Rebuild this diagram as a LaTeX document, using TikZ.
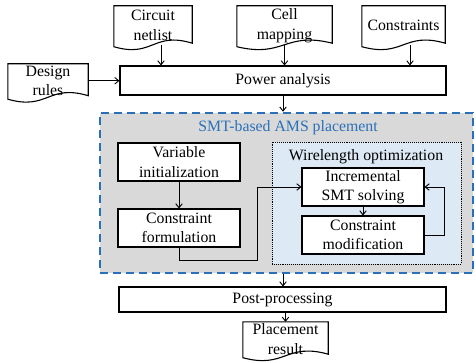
\documentclass[tikz,border=0pt]{standalone}
\usepackage{fontspec}
\setmainfont{Liberation Serif}
\usetikzlibrary{arrows.meta,calc}
\definecolor{grayfill}{HTML}{D9D9D9}
\definecolor{lightblue}{HTML}{DDEAF6}
\definecolor{dashblue}{HTML}{2A70B8}
\tikzset{
  txt/.style={align=center, inner sep=0pt, font=\fontsize{15.8}{19.5}\selectfont},
  box/.style={txt, draw, line width=1.1pt, fill=white},
  docnode/.style={txt},
  docline/.style={line width=1.1pt},
  arr/.style={-{Straight Barb[length=4pt,width=6.5pt]}, line width=0.9pt},
}
\newcommand\docoutline[1]{%
  \draw[docline] (#1.north west) -- (#1.north east) -- ($(#1.south east)+(0,-2)$)
    .. controls ($(#1.south)+(0,-14)$) and ($(#1.south)+(0,13)$) .. ($(#1.south west)+(0,1.5)$) -- cycle;}
\begin{document}
\begin{tikzpicture}[x=1pt,y=-1pt]
\useasboundingbox (0,0) rectangle (476,363);
\fill[white] (0,0) rectangle (476,363);

% SMT outer box
\node[draw=dashblue, fill=grayfill, line width=2.6pt, dash pattern=on 8pt off 5pt,
      minimum width=373pt, minimum height=160pt, inner sep=0pt] (smt) at (286.5,193) {};
\node[txt, text=dashblue] (smtt) at (288,128) {SMT-based AMS placement};

% Wirelength optimization box
\node[draw, densely dotted, line width=0.9pt, fill=lightblue,
      minimum width=189pt, minimum height=122pt, inner sep=0pt] (wo) at (366.5,203) {};
\node[txt] (wot) at (366,157) {Wirelength optimization};

% Documents (top)
\node[docnode, minimum width=78pt, minimum height=39pt] (cn) at (153,25.5) {Circuit\\netlist};
\node[docnode, minimum width=95pt, minimum height=39pt] (cm0) at (284.5,25.5) {Cell\\mapping};
\node[docnode, minimum width=83pt, minimum height=39pt] (ct) at (403.5,25.5) {Constraints};
\node[docnode, minimum width=80pt, minimum height=33.5pt] (dr) at (48,80.75) {Design\\rules};
\node[docnode, minimum width=85pt, minimum height=34pt] (pr) at (285.5,339) {Placement\\result};
\docoutline{cn}
\docoutline{cm0}
\docoutline{ct}
\docoutline{dr}
\docoutline{pr}

% Boxes
\node[box, minimum width=326pt, minimum height=29pt] (pa) at (283,80.5) {Power analysis};
\node[box, minimum width=122pt, minimum height=38pt] (vi) at (179,162) {Variable\\initialization};
\node[box, minimum width=122pt, minimum height=38pt] (cf) at (179,228) {Constraint\\formulation};
\node[box, minimum width=122pt, minimum height=38pt] (is) at (363,187) {Incremental\\SMT solving};
\node[box, minimum width=122pt, minimum height=38pt] (cmod) at (363,235) {Constraint\\modification};
\node[box, minimum width=327pt, minimum height=25pt] (pp) at (282.5,299.5) {Post-processing};

% Connectors
\draw[arr] ([xshift=8pt]cn.south) -- ([xshift=8pt]cn.south |- pa.north);
\draw[arr] (cm0.south) -- (cm0.south |- pa.north);
\draw[arr] ([xshift=6.5pt]ct.south) -- ([xshift=6.5pt]ct.south |- pa.north);
\draw[arr] (dr.east) -- (dr.east -| pa.west);
\draw[arr] (pa.south) -- (pa.south |- smt.north);
\draw[arr] (vi) -- (cf);
\draw[arr] (is) -- (cmod);
\draw[arr] (cmod.east) -- ++(20,0) |- (is.east);
\draw[arr] (cf.south) -- ++(0,13) -| ([xshift=-44pt]is.west) -- (is.west);
\draw[arr] (smt.south -| pa.south) -- (pa.south |- pp.north);
\draw[arr] (pp.south -| pr.north) -- (pr.north);
\end{tikzpicture}
\end{document}
